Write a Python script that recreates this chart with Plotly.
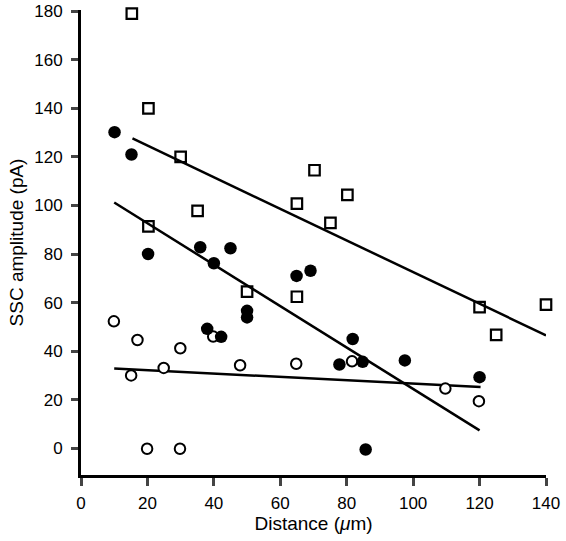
import plotly.graph_objects as go

# Open squares
sq_x = [15.3, 20.3, 30.0, 20.3, 35.1, 50.0, 65.0, 65.0, 70.3, 75.1, 80.2, 120.0, 125.0, 140.0]
sq_y = [179.0, 140.0, 120.0, 91.4, 97.8, 64.5, 100.8, 62.4, 114.5, 92.8, 104.4, 58.1, 46.7, 59.2]

# Filled circles
fc_x = [10.1, 15.2, 20.2, 35.9, 45.0, 40.0, 64.9, 69.1, 50.0, 50.0, 38.0, 42.2, 81.8, 77.8, 84.8, 97.5, 120.0, 85.7]
fc_y = [130.2, 121.0, 80.0, 82.8, 82.4, 76.2, 71.0, 73.1, 56.6, 53.9, 49.2, 45.9, 45.0, 34.5, 35.6, 36.2, 29.3, -0.5]

# Open circles
oc_x = [9.9, 17.0, 29.9, 15.1, 24.9, 39.8, 47.9, 64.8, 81.6, 109.7, 119.8, 19.9, 29.8]
oc_y = [52.3, 44.6, 41.2, 30.0, 33.1, 46.0, 34.2, 34.8, 35.8, 24.6, 19.4, -0.2, -0.2]

# Regression line endpoints
sq_fit_x = [15.5, 140.0]
sq_fit_y = [127.6, 46.5]
fc_fit_x = [10.0, 120.0]
fc_fit_y = [101.2, 7.4]
oc_fit_x = [10.0, 120.3]
oc_fit_y = [32.9, 25.2]

x_ticks = [0, 20, 40, 60, 80, 100, 120, 140]
y_ticks = [0, 20, 40, 60, 80, 100, 120, 140, 160, 180]

FONT = "Liberation Sans, Arial, Helvetica, sans-serif"

fig = go.Figure()
for fx, fy in [(sq_fit_x, sq_fit_y), (fc_fit_x, fc_fit_y), (oc_fit_x, oc_fit_y)]:
    fig.add_trace(go.Scatter(x=fx, y=fy, mode="lines",
                             line=dict(color="black", width=2.5),
                             showlegend=False, hoverinfo="skip"))

fig.add_trace(go.Scatter(x=sq_x, y=sq_y, mode="markers", cliponaxis=False,
                         marker=dict(symbol="square-open", size=10.5, color="black",
                                     line=dict(width=2.2, color="black")),
                         showlegend=False))
fig.add_trace(go.Scatter(x=oc_x, y=oc_y, mode="markers", cliponaxis=False,
                         marker=dict(symbol="circle", size=10.5, color="white",
                                     line=dict(width=2, color="black")),
                         showlegend=False))
fig.add_trace(go.Scatter(x=fc_x, y=fc_y, mode="markers", cliponaxis=False,
                         marker=dict(symbol="circle", size=12.5, color="black",
                                     line=dict(width=0)),
                         showlegend=False))

fig.update_layout(
    width=566, height=541,
    margin=dict(l=81, r=20, t=10, b=66, autoexpand=False),
    plot_bgcolor="white", paper_bgcolor="white",
    font=dict(family=FONT, color="black", size=16),
    xaxis=dict(range=[0, 140], tickvals=x_ticks, ticks="outside", ticklen=8, tickwidth=2.5,
               showline=True, linewidth=3, linecolor="black", showgrid=False, zeroline=False,
               tickfont=dict(size=17), ticklabelstandoff=3, automargin=False,
               ticklabeloverflow="allow",
               title=dict(text="Distance (<i>μ</i>m)", font=dict(size=19), standoff=4)),
    yaxis=dict(range=[-11, 180.5], tickvals=y_ticks, ticks="outside", ticklen=7, tickwidth=2.5,
               showline=True, linewidth=3, linecolor="black", showgrid=False, zeroline=False,
               tickfont=dict(size=17), ticklabelstandoff=5, automargin=False,
               ticklabeloverflow="allow",
               title=dict(text="SSC amplitude (pA)", font=dict(size=19), standoff=6)),
)

# remove the browser's default 8px body margin so the figure sits at the window origin
fig.write_html("out.html", config={"displayModeBar": False},
               post_script="document.body.style.margin='0';")
